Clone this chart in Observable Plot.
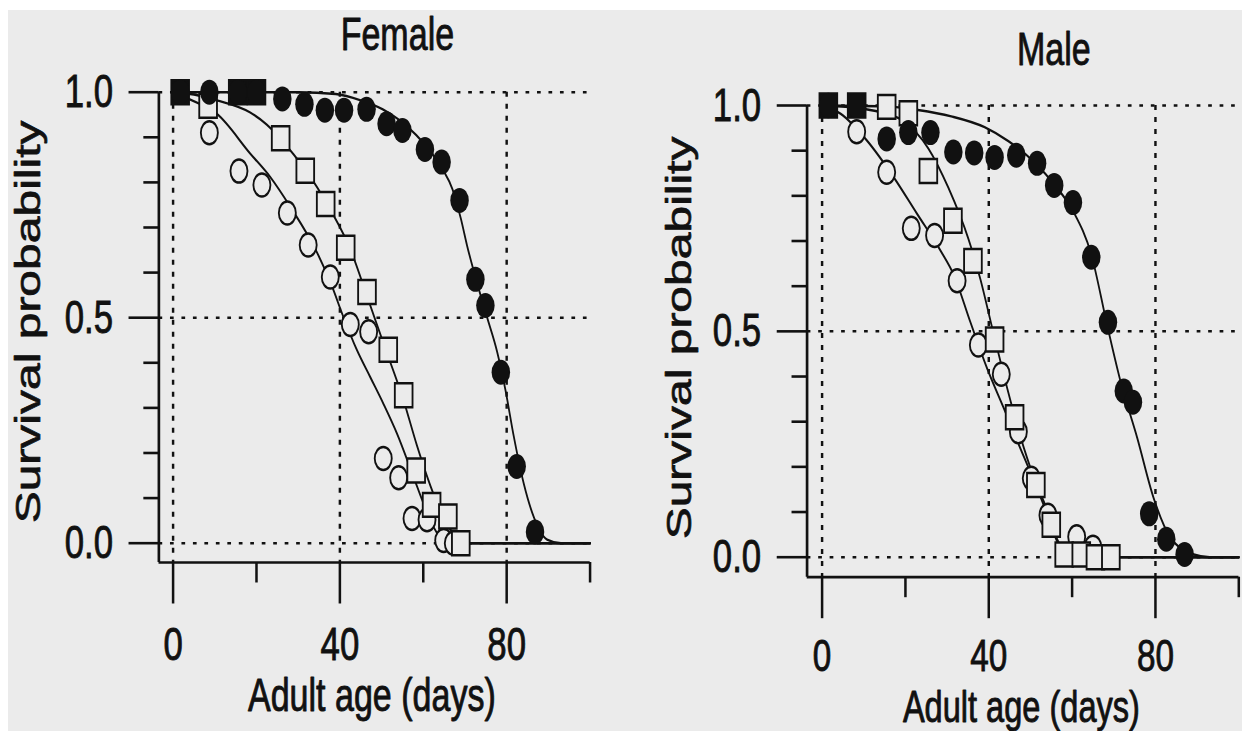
<!DOCTYPE html>
<html><head><meta charset="utf-8">
<script src="https://cdn.jsdelivr.net/npm/d3@7"></script>
<script src="https://cdn.jsdelivr.net/npm/@observablehq/plot@0.6"></script>
<style>
html,body{margin:0;padding:0;background:#fff;}
#page{position:relative;width:1242px;height:731px;overflow:hidden;background:#fff;}
#bg{position:absolute;left:8px;top:10px;right:0;bottom:0;background:#ebebeb;}
.panel{position:absolute;top:0;transform-origin:0 0;}
.panel svg{max-width:none !important;}
</style></head><body>
<div id="page"><div id="bg"></div><div id="female" class="panel"></div><div id="male" class="panel"></div></div>
<script>
// ---- tick labels / text ----
const ageTicks = [0, 40, 80];
const ageMinorTicks = [20, 60, 100];
const probTicks = [0, 0.5, 1];
const probMinorTicks = [0.1, 0.2, 0.3, 0.4, 0.6, 0.7, 0.8, 0.9];
const panelTitles = ["Female", "Male"];
const xLabel = "Adult age (days)";
const yLabel = "Survival probability";

// ---- Female data: [age (days), survival probability] ----
const femaleOpenCircles = [[1.7,1.0],[8.7,0.91],[15.8,0.825],[21.3,0.794],[27.4,0.732],[32.4,0.661],[37.7,0.59],[42.5,0.485],[46.9,0.469],[50.4,0.188],[54.1,0.145],[57.3,0.055],[60.9,0.052],[64.9,0.006],[67.2,0.0]];
const femaleOpenSquares = [[1.7,1.0],[8.4,0.97],[15.5,1.0],[20.0,1.0],[25.8,0.898],[31.7,0.826],[36.6,0.752],[41.4,0.655],[46.5,0.557],[51.6,0.429],[55.3,0.328],[58.3,0.161],[62.0,0.085],[65.9,0.059],[69.0,0.0]];
const femaleFilledCircles = [[1.7,1.0],[8.7,1.0],[15.5,1.0],[20.0,1.0],[26.2,0.985],[31.5,0.973],[36.4,0.96],[41.0,0.96],[46.4,0.962],[51.2,0.93],[55.0,0.915],[60.4,0.873],[64.4,0.845],[68.7,0.76],[72.5,0.585],[74.9,0.527],[78.6,0.379],[82.4,0.17],[86.8,0.025]];
const femaleFitCircles = [[0,1],[4,0.984],[10.5,0.952],[18.5,0.864],[23.3,0.812],[28.1,0.746],[34.5,0.645],[38.1,0.57],[40.5,0.51],[44.1,0.428],[47.3,0.368],[50.5,0.308],[53.7,0.243],[57.7,0.146],[60.1,0.087],[62.5,0.035],[64.9,0.006],[68,0],[100,0]];
const femaleFitSquares = [[0,1],[5,0.995],[10.5,0.982],[18.5,0.955],[22.5,0.928],[28.9,0.862],[34.5,0.79],[38,0.735],[42.5,0.652],[46.5,0.548],[50.5,0.442],[55.3,0.316],[58.5,0.216],[62.5,0.108],[66.5,0.03],[70.5,0],[100,0]];
const femaleFitFilled = [[0,1],[30,1.0],[39,0.996],[45,0.982],[50.3,0.962],[54,0.94],[58.3,0.905],[62,0.865],[64.7,0.828],[67,0.785],[69,0.72],[70.5,0.66],[72.9,0.577],[75.3,0.501],[77.7,0.425],[79.7,0.34],[81.7,0.237],[84.1,0.132],[86.5,0.058],[89.7,0.008],[93,0],[100,0]];

// ---- Male data ----
const maleOpenCircles = [[1.5,1.0],[8.3,0.942],[15.5,0.852],[21.4,0.728],[27.0,0.712],[32.4,0.612],[37.5,0.47],[43.0,0.405],[47.1,0.278],[50.2,0.175],[54.2,0.093],[61.1,0.045],[65.0,0.022]];
const maleOpenSquares = [[1.5,1.0],[8.3,1.0],[15.5,0.997],[20.7,0.983],[25.5,0.855],[31.4,0.745],[36.2,0.656],[41.4,0.482],[46.2,0.31],[51.3,0.16],[55.0,0.072],[58.1,0.006],[62.2,0.006],[65.6,0.0],[69.3,0.0]];
const maleFilledCircles = [[1.5,1.0],[8.3,1.0],[15.5,0.926],[20.7,0.94],[26.0,0.94],[31.5,0.897],[36.5,0.895],[41.4,0.885],[46.6,0.89],[51.6,0.872],[55.7,0.823],[60.2,0.785],[64.6,0.664],[68.6,0.52],[72.4,0.368],[74.6,0.343],[78.5,0.096],[82.6,0.04],[87.0,0.006]];
const maleFitCircles = [[0,1],[4.4,0.982],[10.8,0.922],[17.2,0.841],[22.8,0.76],[28.4,0.679],[31.6,0.625],[35.6,0.52],[39.6,0.418],[43.6,0.33],[46.8,0.258],[50.8,0.17],[54,0.096],[56.4,0.035],[58.8,0.004],[61,0],[100,0]];
const maleFitSquares = [[0,1],[8,0.995],[14,0.985],[19.1,0.968],[25.5,0.905],[30.3,0.818],[35.1,0.705],[38,0.615],[40.5,0.52],[44.4,0.375],[47.5,0.27],[51,0.172],[54,0.105],[56.4,0.04],[59,0.003],[61,0],[100,0]];
const maleFitFilled = [[0,1],[15,0.998],[23,0.99],[31,0.976],[39,0.952],[44.7,0.921],[51,0.874],[56,0.822],[60.3,0.765],[64.6,0.67],[68.5,0.51],[71.6,0.39],[75.6,0.265],[79.6,0.13],[83.5,0.045],[89.2,0.006],[93,0],[100,0]];

// ---- rendering ----
const SX = 0.74;           // horizontal compression of the scanned figure
const INK = "#111";
const BG = "#ebebeb";
const FONT = "'Liberation Sans', Arial, Helvetica, sans-serif";

const rows = arr => arr.map(([age, p]) => ({age, p}));

function panel(el, cfg) {
  const L = cfg.layout;
  const sq = rows(cfg.squares).map(d => ({...d,
    dark: cfg.filled.some(([a, p]) => Math.abs(a - d.age) <= 2.5 && Math.abs(p - d.p) <= 0.02)}));
  const textStyle = {fill: INK, stroke: INK, strokeWidth: 0.9};
  const fig = Plot.plot({
    width: L.width, height: 731,
    marginLeft: L.marginLeft, marginRight: L.marginRight,
    marginTop: L.marginTop, marginBottom: L.marginBottom,
    insetLeft: L.insetLeft, insetBottom: L.insetBottom, insetTop: 0, insetRight: 0,
    x: {domain: [0, 100]},
    y: {domain: [0, 1]},
    style: {fontFamily: FONT, fontSize: "46px", color: INK, background: "transparent", overflow: "visible"},
    marks: [
      Plot.ruleY(probTicks, {stroke: INK, strokeWidth: 2.5, strokeDasharray: "5,10.5"}),
      Plot.ruleX(ageTicks, {stroke: INK, strokeWidth: 3.3, strokeDasharray: "5,7"}),
      Plot.ruleX([0], {dx: -L.insetLeft, stroke: INK, strokeWidth: 3.6}),
      Plot.ruleY([0], {dy: L.insetBottom, stroke: INK, strokeWidth: 2.7}),
      Plot.axisY(probTicks, {tickSize: 40.5, tickPadding: 21.5, tickFormat: ".1f", fontSize: 47, strokeWidth: 2.6, label: null}),
      Plot.axisY(probMinorTicks, {tickSize: 20.5, tickFormat: () => "", strokeWidth: 2.6, label: null}),
      Plot.axisX(ageTicks, {tickSize: 41.5, tickPadding: L.xTickPadding, fontSize: L.xTickFont, strokeWidth: 3.4, label: null}),
      Plot.axisX(ageMinorTicks, {tickSize: 20.5, tickFormat: () => "", strokeWidth: 3.4, label: null}),
      Plot.line(rows(cfg.fitCircles), {x: "age", y: "p", curve: "monotone-x", stroke: INK, strokeWidth: 2.4}),
      Plot.line(rows(cfg.fitSquares), {x: "age", y: "p", curve: "monotone-x", stroke: INK, strokeWidth: 2.4}),
      Plot.line(rows(cfg.fitFilled), {x: "age", y: "p", curve: "monotone-x", stroke: INK, strokeWidth: 2.4}),
      Plot.dot(rows(cfg.circles), {x: "age", y: "p", r: 11.5, fill: BG, stroke: INK, strokeWidth: 2.5}),
      Plot.dot(sq.filter(d => !d.dark), {x: "age", y: "p", r: 13.5, symbol: "square", fill: BG, stroke: INK, strokeWidth: 2.5}),
      Plot.dot(sq.filter(d => d.dark), {x: "age", y: "p", r: 13.5, symbol: "square", fill: INK, stroke: INK, strokeWidth: 2.5}),
      Plot.dot(rows(cfg.filled), {x: "age", y: "p", r: 12.5, fill: INK, stroke: "none"}),
      Plot.text([cfg.title], {frameAnchor: "top-left", text: d => d, dx: L.titleDx, dy: L.titleDy,
        textAnchor: "middle", lineAnchor: "bottom", fontSize: 46, ...textStyle}),
      Plot.text([xLabel], {frameAnchor: "bottom-left", text: d => d, dx: L.xLabelDx, dy: L.xLabelDy,
        textAnchor: "middle", lineAnchor: "bottom", fontSize: L.xLabelFont, ...textStyle}),
      Plot.text([yLabel], {frameAnchor: "left", text: d => d, dx: L.yLabelDx, dy: L.yLabelDy, rotate: -90,
        textAnchor: "middle", lineAnchor: "middle", fontSize: 48, ...textStyle})
    ]
  });
  // thicken tick label glyphs slightly, like the scanned print
  fig.querySelectorAll("g[aria-label='y-axis tick label'] text, g[aria-label='x-axis tick label'] text")
    .forEach(t => { t.setAttribute("stroke", INK); t.setAttribute("stroke-width", "0.9"); });
  el.style.left = L.pageLeft + "px";
  el.style.width = L.width + "px";
  el.style.transform = `scaleX(${SX})`;
  el.appendChild(fig);
}

panel(document.getElementById("female"), {
  title: panelTitles[0],
  circles: femaleOpenCircles, squares: femaleOpenSquares, filled: femaleFilledCircles,
  fitCircles: femaleFitCircles, fitSquares: femaleFitSquares, fitFilled: femaleFitFilled,
  layout: {pageLeft: 0, width: 837.8, marginLeft: 214.2, marginRight: 40.9, marginTop: 91.7, marginBottom: 169,
    insetLeft: 19.2, insetBottom: 19.3, xTickPadding: 22.5, xTickFont: 47, xLabelFont: 46,
    titleDx: 322.3, titleDy: -41.7, xLabelDx: 287.8, xLabelDy: 149, yLabelDx: -175.4, yLabelDy: -5.4}
});
panel(document.getElementById("male"), {
  title: panelTitles[1],
  circles: maleOpenCircles, squares: maleOpenSquares, filled: maleFilledCircles,
  fitCircles: maleFitCircles, fitSquares: maleFitSquares, fitFilled: maleFitFilled,
  layout: {pageLeft: 620, width: 840.5, marginLeft: 252.3, marginRight: 4.8, marginTop: 105, marginBottom: 154.3,
    insetLeft: 20.3, insetBottom: 20, xTickPadding: 20, xTickFont: 45, xLabelFont: 44,
    titleDx: 333.5, titleDy: -41, xLabelDx: 289.6, xLabelDy: 144.3, yLabelDx: -171.8, yLabelDy: -3.4}
});
</script></body></html>
